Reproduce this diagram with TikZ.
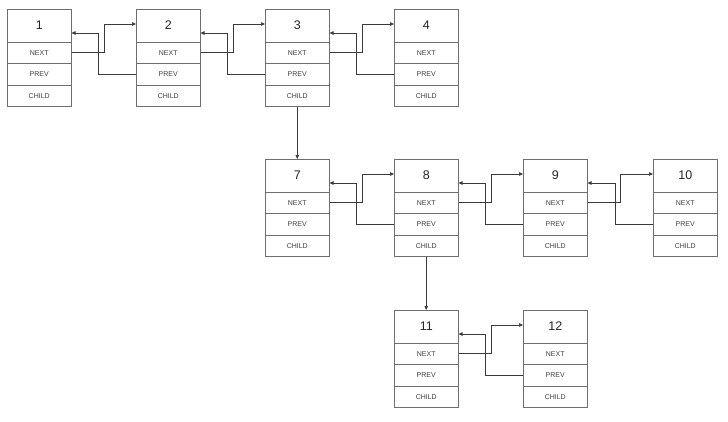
\documentclass[tikz,border=0pt]{standalone}
\usepackage{fontspec}
\setmainfont{Liberation Sans}
\usetikzlibrary{arrows.meta,positioning}

\definecolor{boxline}{HTML}{6E6E6E}
\definecolor{linkline}{HTML}{3A3A3A}
\definecolor{labeltext}{HTML}{404040}

\tikzset{
  head/.style={draw=boxline, line width=0.6pt, fill=white, minimum width=64.5pt,
    minimum height=33pt, inner sep=0pt, outer sep=0pt, anchor=north west,
    font=\fontsize{12.5}{14}\selectfont, text=black!85},
  cell/.style={draw=boxline, line width=0.6pt, fill=white, minimum width=64.5pt,
    minimum height=21.5pt, inner sep=0pt, outer sep=0pt,
    font=\fontsize{7}{8}\selectfont, text=labeltext},
  link/.style={draw=linkline, line width=0.6pt,
    -{Triangle[length=4pt,width=3.5pt]}},
}

% one list element: header with its number, then the NEXT, PREV and CHILD fields
\newcommand\listelem[4]{%
  \node[head] (#1) at (#2,#3) {#4};
  \node[cell, below=0pt of #1] (#1next) {NEXT};
  \node[cell, below=0pt of #1next] (#1prev) {PREV};
  \node[cell, below=0pt of #1prev] (#1child) {CHILD};
}

\begin{document}
\begin{tikzpicture}[x=1pt,y=-1pt]
  \useasboundingbox (0,0) rectangle (728,421);

  % top level
  \listelem{n1}{7}{9}{1}
  \listelem{n2}{136}{9}{2}
  \listelem{n3}{265}{9}{3}
  \listelem{n4}{394}{9}{4}
  % children of 3
  \listelem{n7}{265}{159}{7}
  \listelem{n8}{394}{159}{8}
  \listelem{n9}{523}{159}{9}
  \listelem{n10}{653}{159}{10}
  % children of 8
  \listelem{n11}{394}{310}{11}
  \listelem{n12}{523}{310}{12}

  % next and prev links between neighbours
  \foreach \a/\b in {n1/n2, n2/n3, n3/n4, n7/n8, n8/n9, n9/n10, n11/n12}{
    \draw[link] (\a next.east) -- ++(32.5,0) |- ([yshift=1.5pt]\b.west);
    \draw[link] (\b prev.west) -- ++(-37.5,0) |- ([yshift=-7.5pt]\a.east);
  }

  % child links
  \draw[link] (n3child.south) -- (n7.north);
  \draw[link] (n8child.south) -- (n11.north);
\end{tikzpicture}
\end{document}
